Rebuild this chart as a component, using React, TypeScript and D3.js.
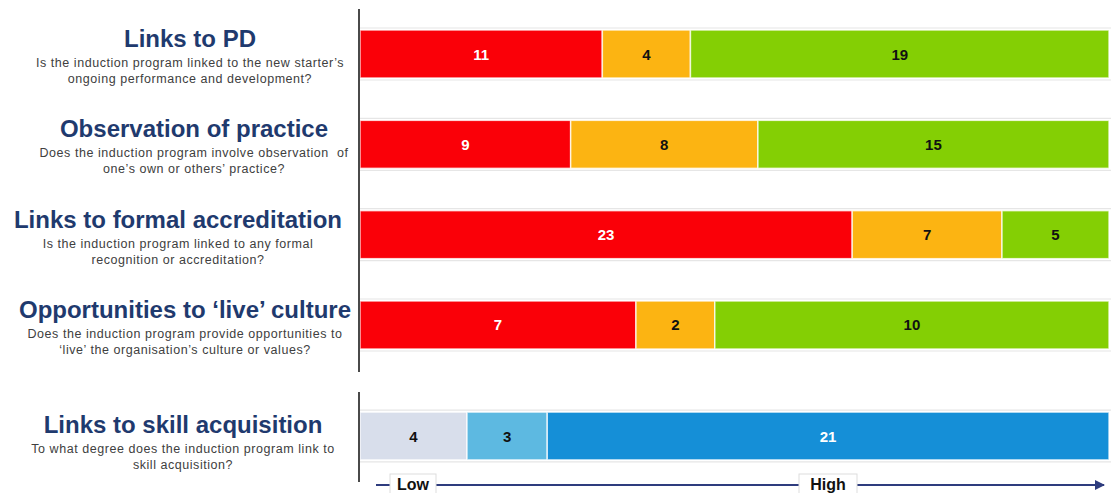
import React from "react";
import * as d3 from "d3";

// ---- Data ----
const categories = [
  "Links to PD",
  "Observation of practice",
  "Links to formal accreditation",
  "Opportunities to \u2018live\u2019 culture",
];
const questions: string[][] = [
  ["Is the induction program linked to the new starter\u2019s", "ongoing performance and development?"],
  ["Does the induction program involve observation  of", "one\u2019s own or others\u2019 practice?"],
  ["Is the induction program linked to any formal", "recognition or accreditation?"],
  ["Does the induction program provide opportunities to", "\u2018live\u2019 the organisation\u2019s culture or values?"],
];
const lowValues = [11, 9, 23, 7];
const midValues = [4, 8, 7, 2];
const highValues = [19, 15, 5, 10];

const skillCategory = "Links to skill acquisition";
const skillQuestion = ["To what degree does the induction program link to", "skill acquisition?"];
const skillValues = [4, 3, 21];

const scaleLabels = ["Low", "High"];

// ---- Styles / layout ----
const W = 1114;
const H = 493;
const X0 = 360;
const X1 = 1109;
const RAG_COLORS = ["#FA0008", "#FCB412", "#84CF04"];
const RAG_TEXT = ["#ffffff", "#111111", "#111111"];
const SKILL_COLORS = ["#D8DEEB", "#5DB9E1", "#158FD7"];
const SKILL_TEXT = ["#111111", "#111111", "#ffffff"];
const LABEL_X = [190, 194, 178, 185];
const SKILL_LABEL_X = 183;
const TITLE_COLOR = "#1F3A6E";
const SUB_COLOR = "#404040";
const FONT = "'Liberation Sans', Arial, sans-serif";

type Seg = { x0: number; x1: number; v: number; color: string; text: string };

function segments(values: number[], colors: string[], textColors: string[]): Seg[] {
  const total = d3.sum(values);
  const x = d3.scaleLinear().domain([0, total]).range([X0, X1]);
  const cum = Array.from(d3.cumsum(values));
  return values.map((v, i) => ({
    x0: x(i === 0 ? 0 : cum[i - 1]),
    x1: x(cum[i]),
    v,
    color: colors[i],
    text: textColors[i],
  }));
}

function Bar({ y, h, segs }: { y: number; h: number; segs: Seg[] }) {
  return (
    <g>
      <line x1={X0} x2={X1 + 2} y1={y - 2} y2={y - 2} stroke="#e6e6e6" strokeWidth={1.2} />
      <line x1={X0} x2={X1 + 2} y1={y + h + 2} y2={y + h + 2} stroke="#e6e6e6" strokeWidth={1.2} />
      {segs.map((s, i) => (
        <g key={i}>
          <rect
            x={s.x0}
            y={y}
            width={s.x1 - s.x0}
            height={h}
            fill={s.color}
            stroke="rgba(255,255,255,0.75)"
            strokeWidth={1.5}
          />
          <text
            x={(s.x0 + s.x1) / 2}
            y={y + h / 2 + 5.5}
            textAnchor="middle"
            fontFamily={FONT}
            fontWeight="bold"
            fontSize={15}
            fill={s.text}
          >
            {s.v}
          </text>
        </g>
      ))}
    </g>
  );
}

function Label({ cx, y, title, lines, dy }: { cx: number; y: number; title: string; lines: string[]; dy: number }) {
  return (
    <g>
      <text x={cx} y={y + dy} textAnchor="middle" fontFamily={FONT} fontWeight="bold" fontSize={24} fill={TITLE_COLOR}>
        {title}
      </text>
      {lines.map((l, i) => (
        <text
          key={i}
          x={cx}
          y={y + dy + 20 + i * 16}
          textAnchor="middle"
          fontFamily={FONT}
          fontSize={12.5}
          letterSpacing={0.55}
          fill={SUB_COLOR}
          style={{ whiteSpace: "pre" }}
        >
          {l}
        </text>
      ))}
    </g>
  );
}

export default function App() {
  const yTop = d3.scaleBand<string>().domain(categories).range([9, 370]).paddingInner(0.4686).paddingOuter(0.2325);
  const yBot = d3.scaleBand<string>().domain([skillCategory]).range([391, 481]).paddingInner(0.4686).paddingOuter(0.2325);
  const bh = yTop.bandwidth();

  const axisY = 485;

  return (
    <svg width={W} height={H} style={{ position: "absolute", left: 0, top: 0, background: "#fff" }}>
      <defs>
        <marker id="arr" viewBox="0 0 10 10" refX="9" refY="5" markerWidth="5" markerHeight="5" orient="auto">
          <path d="M0,0 L10,5 L0,10 z" fill="#2E3C7E" />
        </marker>
      </defs>
      <rect width={W} height={H} fill="#fff" />

      {categories.map((c, i) => (
        <g key={c}>
          <Bar
            y={yTop(c)!}
            h={bh}
            segs={segments([lowValues[i], midValues[i], highValues[i]], RAG_COLORS, RAG_TEXT)}
          />
          <Label cx={LABEL_X[i]} y={yTop(c)!} title={c} lines={questions[i]} dy={17} />
        </g>
      ))}

      <Bar y={yBot(skillCategory)!} h={yBot.bandwidth()} segs={segments(skillValues, SKILL_COLORS, SKILL_TEXT)} />
      <Label cx={SKILL_LABEL_X} y={yBot(skillCategory)!} title={skillCategory} lines={skillQuestion} dy={21} />

      {/* vertical axes */}
      <line x1={359} x2={359} y1={9} y2={372} stroke="#4a4a4a" strokeWidth={2} />
      <line x1={359} x2={359} y1={392} y2={482} stroke="#4a4a4a" strokeWidth={2} />

      {/* Low-High scale */}
      <line x1={376} x2={1104} y1={axisY} y2={axisY} stroke="#2E3C7E" strokeWidth={2} markerEnd="url(#arr)" />
      <rect x={390} y={474} width={46} height={24} fill="#fff" stroke="#dddddd" strokeWidth={1} />
      <text x={413} y={490} textAnchor="middle" fontFamily={FONT} fontWeight="bold" fontSize={16} fill="#111">
        {scaleLabels[0]}
      </text>
      <rect x={799} y={474} width={58} height={24} fill="#fff" stroke="#dddddd" strokeWidth={1} />
      <text x={828} y={490} textAnchor="middle" fontFamily={FONT} fontWeight="bold" fontSize={16} fill="#111">
        {scaleLabels[1]}
      </text>
    </svg>
  );
}
